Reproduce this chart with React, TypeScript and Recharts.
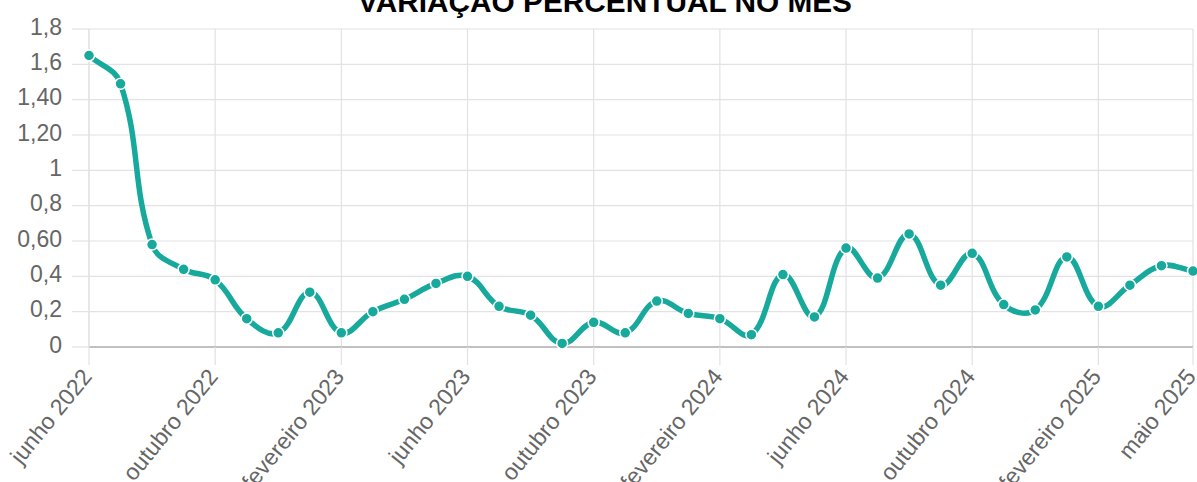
import React from 'react';
import { LineChart, Line, XAxis, YAxis, CartesianGrid } from 'recharts';

const title = 'VARIAÇÃO PERCENTUAL NO MÊS';

const months = [
  'junho 2022', 'julho 2022', 'agosto 2022', 'setembro 2022', 'outubro 2022', 'novembro 2022', 'dezembro 2022',
  'janeiro 2023', 'fevereiro 2023', 'março 2023', 'abril 2023', 'maio 2023', 'junho 2023', 'julho 2023',
  'agosto 2023', 'setembro 2023', 'outubro 2023', 'novembro 2023', 'dezembro 2023',
  'janeiro 2024', 'fevereiro 2024', 'março 2024', 'abril 2024', 'maio 2024', 'junho 2024', 'julho 2024',
  'agosto 2024', 'setembro 2024', 'outubro 2024', 'novembro 2024', 'dezembro 2024',
  'janeiro 2025', 'fevereiro 2025', 'março 2025', 'abril 2025', 'maio 2025',
];

const values = [
  1.65, 1.49, 0.58, 0.44, 0.38, 0.16, 0.08,
  0.31, 0.08, 0.2, 0.27, 0.36, 0.4, 0.23,
  0.18, 0.02, 0.14, 0.08, 0.26,
  0.19, 0.16, 0.07, 0.41, 0.17, 0.56, 0.39,
  0.64, 0.35, 0.53, 0.24, 0.21,
  0.51, 0.23, 0.35, 0.46, 0.43,
];

const xTickLabels = [
  'junho 2022', 'outubro 2022', 'fevereiro 2023', 'junho 2023', 'outubro 2023',
  'fevereiro 2024', 'junho 2024', 'outubro 2024', 'fevereiro 2025', 'maio 2025',
];

const yTicks = [0, 0.2, 0.4, 0.6, 0.8, 1, 1.2, 1.4, 1.6, 1.8];
const yTickLabels = ['0', '0,2', '0,4', '0,60', '0,8', '1', '1,20', '1,40', '1,6', '1,8'];

const data = months.map((m, i) => ({ month: m, value: values[i] }));

const LINE_COLOR = '#17a99b';
const GRID = '#e2e2e2';
const TEXT = '#666666';
const FONT = '"Liberation Sans", Arial, sans-serif';

// Chart.js-style spline (tension 0.4)
function chartjsCurve(context: any) {
  let pts: number[][] = [];
  const tension = 0.4;
  return {
    areaStart() {},
    areaEnd() {},
    lineStart() {
      pts = [];
    },
    point(x: number, y: number) {
      pts.push([+x, +y]);
    },
    lineEnd() {
      const n = pts.length;
      if (!n) return;
      context.moveTo(pts[0][0], pts[0][1]);
      if (n === 1) return;
      const cps = pts.map((p, i) => {
        const prev = pts[i - 1] || p;
        const next = pts[i + 1] || p;
        const d01 = Math.hypot(p[0] - prev[0], p[1] - prev[1]);
        const d12 = Math.hypot(next[0] - p[0], next[1] - p[1]);
        let s01 = d01 / (d01 + d12);
        let s12 = d12 / (d01 + d12);
        if (!isFinite(s01)) s01 = 0;
        if (!isFinite(s12)) s12 = 0;
        const fa = tension * s01;
        const fb = tension * s12;
        return {
          prev: [p[0] - fa * (next[0] - prev[0]), p[1] - fa * (next[1] - prev[1])],
          next: [p[0] + fb * (next[0] - prev[0]), p[1] + fb * (next[1] - prev[1])],
        };
      });
      for (let i = 1; i < n; i++) {
        context.bezierCurveTo(
          cps[i - 1].next[0], cps[i - 1].next[1],
          cps[i].prev[0], cps[i].prev[1],
          pts[i][0], pts[i][1]
        );
      }
    },
  };
}

const YTick = (props: any) => {
  const { x, y, payload } = props;
  const idx = yTicks.findIndex((t) => Math.abs(t - payload.value) < 1e-9);
  const label = idx >= 0 ? yTickLabels[idx] : String(payload.value);
  return (
    <text
      x={x}
      y={y - 2.5}
      textAnchor="end"
      dy="0.36em"
      fontSize={23}
      fill={TEXT}
      fontFamily={FONT}
    >
      {label}
    </text>
  );
};

const XTick = (props: any) => {
  const { x, y, payload } = props;
  return (
    <text
      transform={`translate(${x + 4},${y + 10}) rotate(-51)`}
      textAnchor="end"
      fontSize={23}
      fill={TEXT}
      fontFamily={FONT}
    >
      {payload.value}
    </text>
  );
};

export default function App() {
  return (
    <div style={{ position: 'absolute', left: 0, top: 0, width: 1197, height: 482, background: '#fff', overflow: 'hidden' }}>
      <LineChart width={1197} height={482} data={data} margin={{ top: 29, right: 4, bottom: 0, left: 0 }}>
        <CartesianGrid stroke={GRID} strokeWidth={1.2} />
        <XAxis
          dataKey="month"
          ticks={xTickLabels}
          interval={0}
          height={135}
          tickSize={18}
          tickMargin={2}
          tickLine={{ stroke: GRID, strokeWidth: 1.2 }}
          axisLine={{ stroke: '#b0b0b0', strokeWidth: 1.5 }}
          tick={<XTick />}
          padding={{ left: 0, right: 0 }}
        />
        <YAxis
          domain={[0, 1.8]}
          ticks={yTicks}
          interval={0}
          width={89}
          tickSize={17}
          tickMargin={10}
          tickLine={{ stroke: GRID, strokeWidth: 1.2 }}
          axisLine={{ stroke: GRID, strokeWidth: 1.2 }}
          tick={<YTick />}
        />
        <Line
          dataKey="value"
          type={chartjsCurve as any}
          stroke={LINE_COLOR}
          strokeWidth={5.5}
          dot={{ r: 5.5, fill: LINE_COLOR, stroke: '#ffffff', strokeWidth: 1.5 }}
          activeDot={false}
          isAnimationActive={false}
        />
      </LineChart>
      <svg width={1197} height={40} style={{ position: 'absolute', left: 0, top: 0, pointerEvents: 'none' }}>
        <text
          x={358}
          y={12}
          textLength={494}
          lengthAdjust="spacingAndGlyphs"
          fontSize={30}
          fontWeight="bold"
          fill="#000"
          fontFamily={FONT}
        >
          {title}
        </text>
      </svg>
    </div>
  );
}
